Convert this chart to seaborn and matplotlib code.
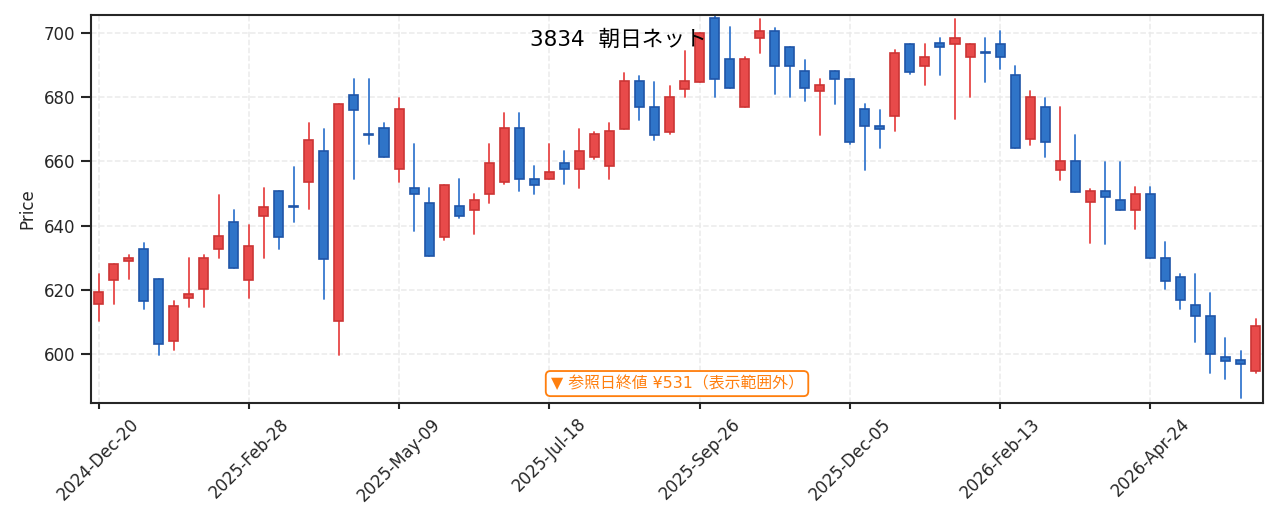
import numpy as np
import pandas as pd
import matplotlib
matplotlib.use("Agg")
import matplotlib.pyplot as plt
import seaborn as sns

# 週足データ（チャートから読み取り）
dates = pd.date_range("2024-12-20", periods=78, freq="7D")
opens = [615.6, 623.1, 629.0, 632.8, 623.3, 604.1, 617.4, 620.3, 632.7, 641.2,
         623.1, 643.0, 650.9, 646.0, 653.6, 663.3, 610.3, 680.7, 668.4, 670.3,
         657.6, 651.8, 647.1, 636.4, 646.2, 644.9, 649.9, 653.5, 670.3, 654.6,
         654.5, 659.6, 657.6, 661.4, 658.6, 670.1, 685.0, 677.0, 669.2, 682.5,
         684.8, 704.6, 691.8, 676.9, 698.3, 700.7, 695.7, 688.0, 681.9, 688.0,
         685.8, 676.2, 671.0, 674.1, 696.7, 689.7, 696.8, 696.6, 692.4, 694.0,
         696.7, 687.0, 667.0, 677.0, 657.3, 660.2, 647.4, 650.9, 648.1, 644.9,
         649.9, 630.0, 624.1, 615.1, 611.9, 598.9, 598.0, 594.7]
highs = [625.0, 628.0, 630.8, 634.6, 623.3, 616.5, 629.9, 630.7, 649.5, 644.9,
         640.2, 651.6, 650.9, 658.3, 671.9, 670.1, 677.9, 685.7, 685.7, 671.9,
         679.8, 665.4, 651.6, 652.7, 654.4, 649.8, 665.4, 675.0, 675.0, 658.6,
         665.4, 663.2, 670.1, 669.2, 671.9, 687.5, 686.6, 684.7, 683.4, 694.4,
         700.1, 706.0, 701.7, 692.5, 704.4, 701.5, 695.7, 691.6, 685.6, 688.0,
         685.8, 677.8, 676.0, 694.7, 696.7, 696.6, 698.3, 704.4, 696.7, 698.3,
         700.6, 689.7, 681.9, 679.7, 676.9, 668.3, 651.3, 659.8, 659.8, 651.9,
         651.9, 634.8, 624.8, 624.8, 618.9, 604.9, 600.9, 610.9]
lows = [610.1, 615.6, 623.3, 613.9, 599.5, 601.3, 614.7, 614.7, 630.0, 626.8,
        617.5, 630.0, 632.8, 641.2, 645.1, 617.2, 599.8, 654.6, 665.5, 661.4,
        653.7, 638.4, 630.5, 635.4, 642.3, 637.5, 647.1, 652.9, 650.9, 649.9,
        654.5, 652.9, 651.8, 660.7, 654.6, 670.1, 673.0, 666.6, 668.4, 680.0,
        684.8, 679.9, 682.8, 676.9, 693.9, 681.1, 679.9, 678.9, 668.3, 678.0,
        665.3, 657.4, 664.3, 669.3, 687.1, 683.9, 686.9, 673.1, 679.9, 684.8,
        688.9, 664.3, 665.2, 661.5, 654.3, 650.5, 634.7, 634.1, 644.9, 639.0,
        629.9, 620.2, 614.1, 603.8, 594.0, 592.1, 586.2, 594.0]
closes = [619.4, 627.9, 630.0, 616.5, 603.2, 614.9, 618.6, 630.0, 636.6, 626.8,
          633.7, 645.9, 636.4, 645.8, 666.5, 629.7, 677.9, 676.1, 668.2, 661.4,
          676.2, 649.9, 630.5, 652.7, 643.1, 648.1, 659.6, 670.3, 654.4, 652.7,
          656.8, 657.6, 663.3, 668.4, 669.3, 685.0, 676.9, 668.2, 679.9, 685.0,
          700.1, 685.6, 682.8, 691.8, 700.7, 689.7, 689.7, 682.9, 683.9, 685.7,
          665.9, 671.0, 670.1, 693.9, 687.9, 692.6, 695.6, 698.5, 696.7, 693.8,
          692.5, 664.3, 679.9, 666.0, 660.2, 650.5, 650.6, 648.9, 644.9, 649.9,
          629.9, 622.8, 616.8, 611.8, 600.0, 597.8, 596.9, 608.8]

title = "3834  朝日ネット"
note = "▼ 参照日終値 ¥531（表示範囲外）"

sns.set_theme(style="ticks", rc={"axes.grid": True, "grid.linestyle": "--",
                                 "grid.color": "#ebebeb", "grid.linewidth": 0.9})
plt.rcParams['font.family'] = ['DejaVu Sans', 'Noto Sans CJK JP']

df = pd.DataFrame({"date": dates, "open": opens, "high": highs,
                   "low": lows, "close": closes})
df["idx"] = np.arange(len(df))
df["dir"] = np.where(df["close"] >= df["open"], "up", "down")

up_fill, up_edge = "#e84a4a", "#cc3535"
dn_fill, dn_edge = "#2f74c8", "#1f55a8"

fig, ax = plt.subplots(figsize=(10.65, 4.425), dpi=120)
fig.subplots_adjust(left=0.0712, right=0.9883, top=0.9718, bottom=0.2411)

# ヒゲ
wicks = df.melt(id_vars=["idx", "dir"], value_vars=["low", "high"], value_name="price")
sns.lineplot(data=wicks, x="idx", y="price", units="idx", estimator=None,
             hue="dir", palette={"up": up_fill, "down": "#3a7bd0"},
             linewidth=1.1, legend=False, ax=ax, zorder=2)

# 実体
body_lo = df[["open", "close"]].min(axis=1)
body_h = (df["close"] - df["open"]).abs()
fills = df["dir"].map({"up": up_fill, "down": dn_fill})
edges = df["dir"].map({"up": up_edge, "down": dn_edge})
ax.bar(df["idx"], body_h, bottom=body_lo, width=0.6, color=fills,
       edgecolor=edges, linewidth=1.0, zorder=3)

ax.set_xlim(-0.5, 77.5)
ax.set_ylim(584.7, 705.6)
ax.set_yticks(np.arange(600, 701, 20))
tick_pos = np.arange(0, 78, 10)
ax.set_xticks(tick_pos)
ax.set_xticklabels([d.strftime("%Y-%b-%d") for d in df["date"].iloc[tick_pos]],
                   rotation=45, fontsize=10)
ax.tick_params(axis="y", labelsize=10, length=6, pad=3.5)
ax.tick_params(axis="x", length=3.6, pad=3.5)
ax.set_xlabel("")
ax.set_ylabel("Price", fontsize=10)

ax.text(0.45, 0.935, title, transform=ax.transAxes, ha="center", va="center",
        fontsize=13, color="black", zorder=5)
ax.text(0.5, 0.05, note, transform=ax.transAxes, ha="center", va="center",
        fontsize=9.5, color="#ff7f0e", zorder=5,
        bbox=dict(boxstyle="round,pad=0.3", facecolor="white",
                  edgecolor="#ff7f0e", linewidth=1.1))

fig.savefig("out.png", dpi=120)
